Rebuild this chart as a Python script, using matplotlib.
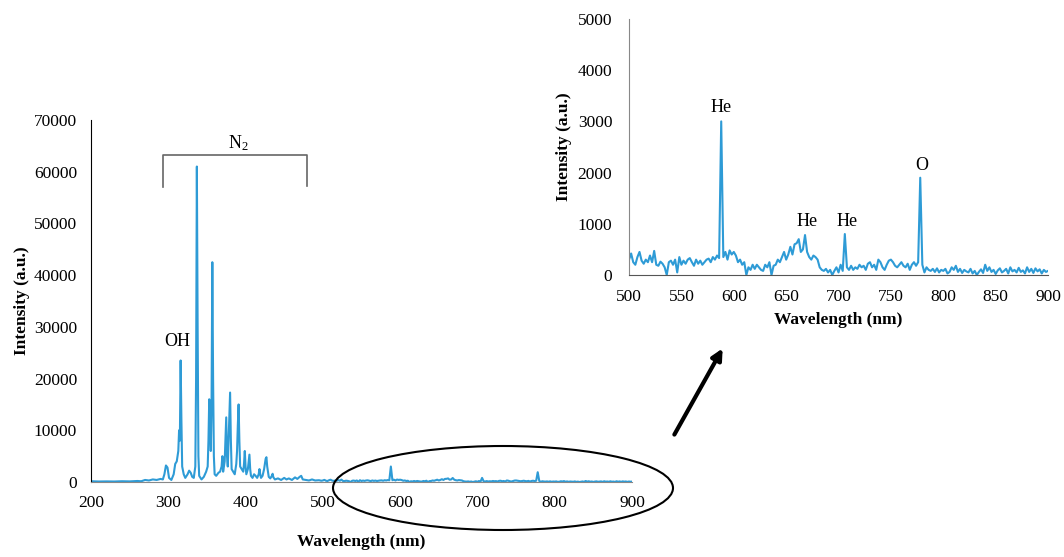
import matplotlib.pyplot as plt
from matplotlib.patches import Ellipse, FancyArrowPatch

plt.rcParams['font.family'] = ['Liberation Serif', 'DejaVu Serif']
plt.rcParams['mathtext.fontset'] = 'custom'
plt.rcParams['mathtext.rm'] = 'Liberation Serif'
plt.rcParams['mathtext.it'] = 'Liberation Serif:italic'

LINE = '#2e9bd6'

# UV part of the spectrum (200-500 nm)
uv_wl = [200, 210, 220, 230, 240, 250, 260, 265, 270, 275, 280, 285, 290, 293,
         295, 297, 299, 301, 304, 307, 309, 311, 313, 314, 315, 316, 317, 318,
         320, 322, 325, 327, 329, 331, 333, 335, 336, 337, 338, 339, 340, 343,
         346, 349, 351, 352, 353, 354, 355, 356, 357, 358, 359, 360, 362, 365,
         367, 369, 370, 371, 372, 373, 374, 375, 376, 377, 378, 379, 380, 381,
         382, 384, 386, 388, 389, 390, 391, 392, 393, 395, 397, 398, 399, 400,
         401, 403, 404, 405, 406, 407, 409, 411, 413, 415, 417, 418, 419, 420,
         422, 424, 426, 427, 428, 430, 432, 434, 435, 436, 438, 442, 446, 450,
         453, 456, 460, 464, 467, 470, 472, 474, 478, 482, 486, 490, 495, 498]
uv_int = [150, 100, 120, 100, 150, 120, 200, 150, 400, 300, 500, 400, 600, 500,
          1500, 3200, 2800, 800, 400, 1500, 3500, 4000, 6000, 10000, 8000, 23500, 12000, 3000,
          1500, 800, 1500, 2200, 1800, 1000, 800, 3000, 20000, 61000, 30000, 5000, 1200, 500,
          1000, 2000, 3000, 8000, 16000, 12000, 6000, 15000, 42500, 20000, 5000, 1500, 1200, 1800,
          2000, 3000, 5000, 2000, 3000, 4000, 8000, 12500, 5000, 3000, 8000, 13000, 17300, 8000,
          2500, 2000, 1500, 3500, 6000, 11000, 15000, 8000, 3000, 2500, 2000, 3500, 6000, 3000,
          1500, 2500, 4000, 5300, 2500, 1200, 800, 1500, 1200, 800, 1500, 2500, 1500, 800,
          1200, 2500, 4500, 4800, 3000, 1000, 700, 1200, 1600, 900, 500, 700, 400, 800,
          500, 700, 400, 900, 600, 1000, 1200, 500, 400, 300, 500, 300, 350, 250]

# visible part (500-900 nm, every 2 nm)
vis_wl = list(range(500, 901, 2))
vis_int = [300, 420, 250, 200, 350, 450, 280, 220, 300, 250,
           380, 250, 470, 200, 180, 260, 220, 150, 0, 250,
           280, 200, 300, 50, 350, 200, 280, 220, 300, 330,
           250, 180, 300, 220, 280, 200, 250, 300, 320, 250,
           350, 300, 380, 330, 3000, 350, 450, 300, 480, 400,
           450, 380, 250, 300, 200, 250, 0, 150, 100, 200,
           120, 200, 150, 100, 80, 200, 150, 250, 0, 180,
           200, 300, 250, 350, 450, 300, 400, 550, 400, 600,
           620, 700, 450, 500, 780, 450, 350, 300, 380, 350,
           300, 150, 100, 80, 120, 50, 100, 0, 80, 150,
           50, 200, 80, 800, 150, 100, 180, 100, 150, 120,
           200, 150, 180, 100, 220, 250, 150, 200, 100, 300,
           250, 150, 100, 200, 280, 300, 250, 180, 150, 200,
           250, 180, 150, 220, 100, 200, 250, 180, 250, 1900,
           200, 50, 150, 100, 80, 120, 60, 130, 50, 100,
           80, 120, 30, 60, 150, 100, 180, 60, 120, 40,
           100, 70, 50, 120, 30, 80, 0, 60, 110, 40,
           200, 80, 150, 60, 100, 20, 90, 130, 50, 80,
           120, 30, 150, 70, 100, 50, 140, 60, 90, 30,
           150, 60, 120, 40, 130, 70, 110, 30, 100, 60,
           80]

wl = uv_wl + vis_wl
inten = uv_int + vis_int

main_xticks = [200, 300, 400, 500, 600, 700, 800, 900]
main_yticks = [0, 10000, 20000, 30000, 40000, 50000, 60000, 70000]
inset_xticks = [500, 550, 600, 650, 700, 750, 800, 850, 900]
inset_yticks = [0, 1000, 2000, 3000, 4000, 5000]

inset_labels = [('He', 588, 3280), ('He', 670, 1040), ('He', 708, 1040), ('O', 779, 2135)]

fig = plt.figure(figsize=(10.64, 5.57), dpi=100)

# ---- main spectrum
ax = fig.add_axes([0.0855, 0.1346, 0.5085, 0.650])
ax.plot(wl, inten, color=LINE, lw=1.5)
ax.set_xlim(200, 900)
ax.set_ylim(0, 70000)
ax.set_xticks(main_xticks)
ax.set_yticks(main_yticks)
ax.tick_params(length=0, labelsize=12.5, pad=10)
ax.tick_params(axis='x', pad=9)
for s in ['top', 'right']:
    ax.spines[s].set_visible(False)
ax.spines['left'].set_color('black')
ax.spines['bottom'].set_color('#888888')
ax.set_xlabel('Wavelength (nm)', fontsize=12.5, fontweight='bold', labelpad=17)
ax.set_ylabel('Intensity (a.u.)', fontsize=12.5, fontweight='bold', labelpad=3)

# N2 bracket and labels
ax.plot([293.5, 293.5, 480, 480], [57000, 63200, 63200, 57200], color='#666666', lw=1.2)
ax.text(391, 65500, 'N$_2$', fontsize=13, ha='center', va='center')
ax.text(312, 27100, 'OH', fontsize=13, ha='center', va='center')

# ---- inset
ins = fig.add_axes([0.5912, 0.5063, 0.3938, 0.4596])
ins.plot(wl, inten, color=LINE, lw=1.5)
ins.set_xlim(500, 900)
ins.set_ylim(0, 5000)
ins.set_xticks(inset_xticks)
ins.set_yticks(inset_yticks)
ins.tick_params(length=0, labelsize=12.5, pad=12)
ins.tick_params(axis='x', pad=10)
for s in ['top', 'right']:
    ins.spines[s].set_visible(False)
ins.spines['left'].set_color('#888888')
ins.spines['bottom'].set_color('#555555')
ins.set_xlabel('Wavelength (nm)', fontsize=12.5, fontweight='bold', labelpad=5)
ins.set_ylabel('Intensity (a.u.)', fontsize=12.5, fontweight='bold', labelpad=4)
for txt, x, y in inset_labels:
    ins.text(x, y, txt, fontsize=13, ha='center', va='center')

# ellipse around the visible region and arrow to the inset
fig.patches.append(Ellipse((503 / 1064, 1 - 488 / 557), 340 / 1064, 84 / 557,
                           transform=fig.transFigure, fill=False, ec='black', lw=1.5))
fig.patches.append(FancyArrowPatch((673 / 1064, 1 - 437 / 557), (724 / 1064, 1 - 346 / 557),
                                   transform=fig.transFigure, arrowstyle='-|>',
                                   mutation_scale=16, color='black', lw=3))

plt.savefig('out.png', dpi=100)
